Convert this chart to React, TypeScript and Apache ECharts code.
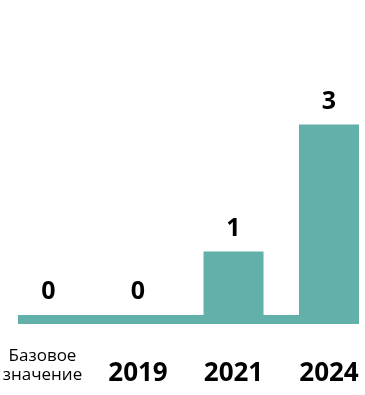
import React, { useEffect, useRef } from "react";
import * as echarts from "echarts";

const categories = ["Базовое\nзначение", "2019", "2021", "2024"];
const values = [0, 0, 1, 3];
const yMax = 4;

const TEAL = "#61b1aa";
const FONT = "'Open Sans', 'Noto Sans', sans-serif";
const SHIFT = 20;

export default function App() {
  const ref = useRef<HTMLDivElement>(null);
  useEffect(() => {
    if (!ref.current) return;
    const chart = echarts.init(ref.current, null, { renderer: "svg" });
    chart.setOption({
      animation: false,
      textStyle: { fontFamily: FONT },
      grid: [
        { left: 18 + SHIFT, right: 26, top: 60, bottom: 75.5 },
        { left: 14.75, right: 8.25, top: 61, bottom: 80 },
      ],
      xAxis: [
        {
          gridIndex: 0,
          type: "category",
          data: categories,
          axisLine: { show: true, lineStyle: { color: TEAL, width: 9, cap: "butt" } },
          axisTick: { show: false },
          axisLabel: { show: false },
          splitLine: { show: false },
        },
        {
          gridIndex: 1,
          type: "category",
          data: categories,
          axisLine: { show: false },
          axisTick: { show: false },
          splitLine: { show: false },
          axisLabel: {
            interval: 0,
            margin: 30,
            color: "#000",
            fontFamily: FONT,
            formatter: (v: string, i: number) =>
              i === 0 ? v.split("\n").map((s) => `{a|${s}}`).join("\n") : `{y|${v}}`,
            rich: {
              a: { fontSize: 17, lineHeight: 19, color: "#000", fontFamily: FONT },
              y: {
                fontSize: 26,
                fontWeight: "bold",
                lineHeight: 30,
                padding: [21, 0, 0, 0],
                color: "#000",
                fontFamily: FONT,
              },
            },
          },
        },
      ],
      yAxis: [
        { gridIndex: 0, type: "value", show: false, min: 0, max: yMax },
        { gridIndex: 1, type: "value", show: false, min: 0, max: yMax },
      ],
      series: [
        {
          type: "bar",
          xAxisIndex: 1,
          yAxisIndex: 1,
          data: values.map((v, i) => (i === 0 ? { value: v, label: { offset: [6, 0] } } : v)),
          barWidth: 60,
          itemStyle: { color: TEAL },
          label: {
            show: true,
            position: "top",
            distance: 11,
            fontSize: 25,
            fontWeight: "bold",
            lineHeight: 30,
            color: "#000",
            fontFamily: FONT,
          },
        },
      ],
    });
    return () => chart.dispose();
  }, []);
  return (
    <div style={{ position: "fixed", left: 0, top: 0, width: 365, height: 395, overflow: "hidden" }}>
      <div
        ref={ref}
        style={{ position: "absolute", left: -SHIFT, top: 0, width: 365 + SHIFT + 20, height: 395 }}
      />
    </div>
  );
}
